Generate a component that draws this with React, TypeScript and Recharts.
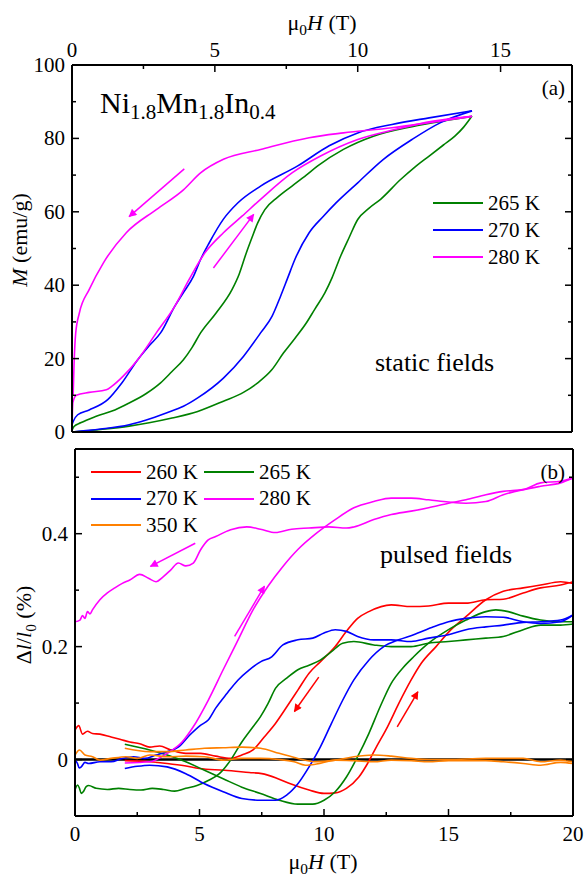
import React from 'react';
import { LineChart, Line, XAxis, YAxis } from 'recharts';

// ---- panel (a): static field magnetisation, [mu0H (T), M (emu/g)] ----
const m265Up: [number, number][] = [
  [0, 0], [1, 0.7], [2, 1.6], [2.7, 2.5], [3.5, 3.8], [4.4, 5.6], [5.3, 8.4], [6, 10.8], [6.5, 13.4],
  [7, 17], [7.4, 21.5], [7.8, 25.5], [8.2, 29.7], [8.5, 33.5], [8.85, 37.9], [9.1, 42], [9.4, 47.9],
  [9.7, 53], [10, 57.9], [10.4, 61], [10.8, 63.4], [11.5, 68.8], [12, 72.2], [12.5, 75.2], [13, 78.2],
  [13.4, 80.6], [13.7, 83], [14, 86.1],
];
const m265Down: [number, number][] = [
  [0, 0.5], [0.07, 1.5], [0.3, 2.5], [0.85, 4.3], [1.5, 6], [2, 7.9], [2.6, 10.5], [3.1, 13.4], [3.5, 16.5],
  [3.9, 19.7], [4.2, 23], [4.5, 27], [5.05, 32.5], [5.6, 38.8], [5.85, 43], [6.1, 48.8], [6.3, 53],
  [6.5, 57], [6.75, 60.6], [7.2, 64], [7.7, 67], [8.2, 70], [8.6, 72.5], [9.5, 77], [10.55, 80.6],
  [11.9, 83.2], [13.2, 85], [14, 86],
];
const m270Up: [number, number][] = [
  [0, 0], [1, 0.8], [2, 2], [2.6, 3.3], [3.3, 5.2], [3.9, 7], [4.4, 9.3], [5.3, 14.7], [6, 20.6], [6.6, 27],
  [7, 31.5], [7.3, 37], [7.55, 42], [7.8, 47], [8.3, 54.3], [8.8, 58.8], [9.25, 62.5], [10, 67.9],
  [10.9, 74.3], [11.9, 79.7], [12.9, 84.3], [14, 87.5],
];
const m270Down: [number, number][] = [
  [0, 2], [0.05, 3], [0.2, 4.7], [0.6, 6], [1.25, 8.8], [1.75, 13.4], [2.3, 19.7], [2.7, 23.5], [3.1, 27],
  [3.6, 34.3], [3.9, 38], [4.25, 42.4], [4.5, 47], [4.8, 51.5], [5.3, 58], [5.8, 62.4], [6.6, 67],
  [7.9, 72.5], [9, 78], [10, 81.5], [11.2, 83.8], [12.5, 85.6], [14, 87.5],
];
const m280Up: [number, number][] = [
  [0, 0.5], [0.03, 8], [0.15, 10], [0.6, 10.8], [1.2, 11.5], [1.4, 12.5], [1.8, 15.3], [2.3, 19.7],
  [2.95, 27], [3.6, 34.3], [4.1, 41.6], [4.65, 48.8], [5.3, 54.3], [5.95, 58.8], [6.6, 63.4], [7.7, 70.6],
  [8.7, 75.2], [10, 79.7], [11.3, 82.4], [12.65, 84.7], [14, 86],
];
const m280Down: [number, number][] = [
  [0.04, 10], [0.07, 18], [0.13, 27], [0.26, 32.5], [0.6, 38.8], [1.1, 46.1], [1.9, 54.3], [2.95, 60.6],
  [3.9, 66], [4.5, 70.6], [5.3, 74.3], [6.6, 77], [8.3, 80.2], [9.5, 81.5], [11.2, 82.9], [12.5, 84.3],
  [14, 86],
];
const arrowsA: [number, number][][] = [
  [[3.93, 71.7], [2.0, 58.7]],
  [[4.95, 44.7], [6.36, 59.3]],
];

// ---- panel (b): pulsed field magnetostriction, [mu0H (T), dl/l0 (%)] ----
const s260Up: [number, number][] = [
  [2, -0.002], [3, -0.004], [3.7, -0.007], [4.4, -0.011], [5, -0.016], [6, -0.019], [7, -0.023], [7.5, -0.025],
  [8.1, -0.033], [8.65, -0.043], [9.4, -0.054], [10, -0.06], [10.45, -0.059], [10.9, -0.051], [11.4, -0.031],
  [11.75, -0.007], [12.1, 0.022], [12.55, 0.058], [13, 0.099], [13.5, 0.141], [13.9, 0.17], [14.5, 0.2],
  [15.1, 0.23], [15.7, 0.253], [16.5, 0.283], [17.2, 0.298], [18, 0.304], [18.7, 0.309], [19.5, 0.315], [20, 0.312],
];
const s260Down: [number, number][] = [
  [0, 0.052], [0.15, 0.06], [0.3, 0.045], [0.5, 0.05], [0.7, 0.046], [1, 0.045], [1.45, 0.04], [1.8, 0.036],
  [2.2, 0.031], [2.6, 0.028], [3, 0.022], [3.4, 0.024], [3.85, 0.017], [4.45, 0.011], [5.05, 0.011],
  [5.65, 0.006], [6.25, 0.002], [6.7, 0.008], [7.15, 0.017], [7.6, 0.04], [8.05, 0.064], [8.5, 0.093],
  [8.95, 0.123], [9.4, 0.153], [9.85, 0.173], [10.45, 0.2], [10.9, 0.227], [11.35, 0.25], [11.8, 0.262],
  [12.7, 0.274], [13.5, 0.271], [14.2, 0.272], [15, 0.277], [15.7, 0.277], [16.5, 0.283], [17.2, 0.284],
  [18, 0.295], [18.7, 0.304], [19.5, 0.309], [20, 0.315],
];
const s265Up: [number, number][] = [
  [2, 0.027], [3, 0.017], [3.7, 0.008], [4.45, -0.004], [5.2, -0.019], [5.95, -0.034], [6.7, -0.049],
  [7.45, -0.06], [8.2, -0.072], [8.95, -0.079], [9.55, -0.079], [10, -0.072], [10.45, -0.057], [10.9, -0.031],
  [11.35, 0.005], [11.8, 0.046], [12.25, 0.093], [12.7, 0.135], [13.2, 0.164], [13.6, 0.182], [14.2, 0.206],
  [15, 0.23], [15.7, 0.247], [16.5, 0.262], [16.9, 0.265], [17.4, 0.262], [18, 0.254], [18.7, 0.247],
  [19.5, 0.244], [20, 0.244],
];
const s265Down: [number, number][] = [
  [0, -0.054], [0.1, -0.045], [0.18, -0.051], [0.25, -0.06], [0.33, -0.057], [0.45, -0.048], [0.55, -0.046],
  [0.85, -0.051], [1.3, -0.053], [1.75, -0.051], [2.2, -0.053], [2.65, -0.054], [3.1, -0.051], [3.55, -0.053],
  [4, -0.056], [4.45, -0.051], [4.9, -0.046], [5.35, -0.037], [5.8, -0.025], [6.25, -0.001], [6.7, 0.031],
  [7.15, 0.058], [7.45, 0.076], [7.75, 0.099], [8.05, 0.126], [8.5, 0.144], [8.95, 0.159], [9.4, 0.167],
  [9.85, 0.176], [10.3, 0.191], [10.75, 0.206], [11.2, 0.209], [12, 0.203], [12.7, 0.2], [13.5, 0.2],
  [14.2, 0.206], [15, 0.209], [15.7, 0.212], [16.5, 0.215], [17.2, 0.218], [18, 0.23], [18.7, 0.238],
  [19.5, 0.238], [20, 0.24],
];
const s270Up: [number, number][] = [
  [2, -0.016], [2.5, -0.012], [3, -0.01], [3.7, -0.013], [4.45, -0.025], [5.2, -0.043], [5.95, -0.057],
  [6.7, -0.069], [7.45, -0.072], [8.05, -0.072], [8.5, -0.063], [8.95, -0.043], [9.4, -0.013], [9.85, 0.022],
  [10.3, 0.064], [10.75, 0.105], [11.2, 0.141], [11.8, 0.176], [12.4, 0.2], [13, 0.212], [13.6, 0.221],
  [14.4, 0.235], [15, 0.244], [15.7, 0.25], [16.5, 0.253], [17.2, 0.252], [18, 0.244], [18.7, 0.241],
  [19.5, 0.244], [20, 0.256],
];
const s270Down: [number, number][] = [
  [0, -0.001], [0.1, -0.007], [0.17, -0.015], [0.25, -0.013], [0.4, -0.005], [0.55, -0.007], [1, -0.004],
  [1.45, -0.004], [1.9, 0.002], [2.35, 0.005], [2.8, 0.002], [3.25, 0.008], [3.7, 0.014], [4.15, 0.022],
  [4.6, 0.043], [5.05, 0.061], [5.35, 0.07], [5.65, 0.091], [6.1, 0.117], [6.55, 0.141], [7, 0.159],
  [7.45, 0.173], [7.9, 0.182], [8.35, 0.203], [8.95, 0.212], [9.55, 0.215], [10, 0.224], [10.45, 0.23],
  [10.9, 0.227], [11.35, 0.218], [12, 0.212], [12.7, 0.212], [13.5, 0.209], [14.2, 0.215], [15, 0.221],
  [15.7, 0.23], [16.5, 0.235], [17.2, 0.238], [18, 0.243], [18.7, 0.244], [19.5, 0.247], [20, 0.256],
];
const s280Up: [number, number][] = [
  [2, -0.006], [3, -0.004], [3.7, 0.011], [4.3, 0.031], [4.75, 0.058], [5.35, 0.105], [5.95, 0.159],
  [6.55, 0.212], [7.15, 0.265], [7.75, 0.307], [8.35, 0.342], [8.95, 0.372], [9.7, 0.401], [10.45, 0.425],
  [11.2, 0.446], [12, 0.457], [12.7, 0.463], [13.5, 0.463], [14.2, 0.46], [15, 0.456], [15.7, 0.454],
  [16.5, 0.457], [17.2, 0.469], [18, 0.478], [18.7, 0.484], [19.5, 0.49], [20, 0.499],
];
const s280Down: [number, number][] = [
  [0, 0.244], [0.2, 0.247], [0.3, 0.255], [0.4, 0.25], [0.5, 0.262], [0.6, 0.258], [0.7, 0.265], [1, 0.283],
  [1.3, 0.295], [1.6, 0.304], [1.9, 0.312], [2.2, 0.318], [2.6, 0.328], [2.95, 0.321], [3.25, 0.315],
  [3.55, 0.324], [3.85, 0.336], [4.15, 0.348], [4.45, 0.343], [4.75, 0.348], [5.05, 0.372], [5.35, 0.389],
  [5.65, 0.395], [6.25, 0.407], [6.9, 0.412], [7.45, 0.408], [8.05, 0.402], [8.7, 0.408], [9.4, 0.41],
  [10.2, 0.412], [10.9, 0.41], [11.2, 0.412], [12, 0.425], [12.7, 0.434], [13.5, 0.44], [14.2, 0.446],
  [15, 0.454], [15.7, 0.46], [16.5, 0.469], [17.2, 0.475], [18, 0.478], [18.7, 0.49], [19.5, 0.493], [20, 0.499],
];
const s350Up: [number, number][] = [
  [2, 0.02], [3, 0.014], [3.7, 0.014], [4.45, 0.017], [5.2, 0.02], [5.95, 0.021], [6.7, 0.022], [7.45, 0.02],
  [8.2, 0.011], [8.95, 0.002], [9.7, -0.004], [10.45, -0.001], [11.2, 0.005], [12, 0.008], [12.7, 0.006],
  [13.5, 0.002], [14.2, 0], [15, 0], [16.5, 0.002], [18, 0.002], [18.7, -0.004], [19.5, -0.001], [20, -0.004],
];
const s350Down: [number, number][] = [
  [0, 0.008], [0.18, 0.017], [0.4, 0.008], [0.7, 0.005], [1, -0.001], [1.45, 0.002], [2.05, 0.005],
  [2.5, 0.002], [3, 0.008], [3.7, 0.005], [4.45, 0.006], [5.2, 0.005], [5.95, -0.001], [6.7, 0.002],
  [7.45, 0.002], [8.2, 0], [8.8, -0.004], [9.25, -0.01], [9.7, -0.008], [10.45, -0.001], [11.2, -0.002],
  [12, -0.004], [12.7, -0.001], [13.5, -0.002], [14.2, -0.004], [15, -0.002], [16.5, -0.002], [17.2, -0.004],
  [18, -0.007], [18.7, -0.01], [19.5, -0.005], [20, -0.007],
];
const baselineB: [number, number][] = [[0, 0], [20, 0]];
const arrowsB280: [number, number][][] = [
  [[4.83, 0.383], [3.03, 0.342]],
  [[6.41, 0.218], [7.61, 0.307]],
];
const arrowsB260: [number, number][][] = [
  [[9.79, 0.146], [8.81, 0.085]],
  [[12.94, 0.058], [13.77, 0.12]],
];

// ticks
const ticksXA = [0, 2.5, 5, 7.5, 10, 12.5, 15];
const majorXA = [0, 5, 10, 15];
const ticksYA = [0, 10, 20, 30, 40, 50, 60, 70, 80, 90, 100];
const majorYA = [0, 20, 40, 60, 80, 100];
const ticksXB = [0, 2.5, 5, 7.5, 10, 12.5, 15, 17.5, 20];
const majorXB = [0, 5, 10, 15, 20];
const ticksYB = [0, 0.1, 0.2, 0.3, 0.4, 0.5];
const majorYB = [0, 0.2, 0.4];

const labelsA = ['265 K', '270 K', '280 K'];
const labelsB = ['260 K', '265 K', '270 K', '280 K', '350 K'];

const C = {
  red: '#ff0000',
  green: '#008000',
  blue: '#0000ff',
  magenta: '#ff00ff',
  orange: '#ff8000',
};

const FONT = '"Liberation Serif", "DejaVu Serif", serif';

const pts = (arr: [number, number][]) => arr.map(([h, v]) => ({ h, v }));

type Side = 'top' | 'bottom' | 'left' | 'right';

// inward ticks: tickSize 0 puts (x, y) right on the axis line
const makeTick = (side: Side, majors: number[], fmt?: (v: number) => string) => (props: any) => {
  const { x, y, payload } = props;
  const v = payload.value;
  const isMajor = majors.some(m => Math.abs(m - v) < 1e-6);
  const len = isMajor ? 7 : 4;
  const ls = { stroke: '#000', strokeWidth: 1.5 };
  let line;
  let label = null;
  const tp = { fontFamily: FONT, fontSize: 21, fill: '#000' };
  if (side === 'bottom') {
    line = <line x1={x} y1={y} x2={x} y2={y - len} {...ls} />;
    if (fmt && isMajor) label = <text x={x} y={y + 18} textAnchor="middle" dominantBaseline="central" {...tp}>{fmt(v)}</text>;
  } else if (side === 'top') {
    line = <line x1={x} y1={y} x2={x} y2={y + len} {...ls} />;
    if (fmt && isMajor) label = <text x={x} y={y - 15} textAnchor="middle" dominantBaseline="central" {...tp}>{fmt(v)}</text>;
  } else if (side === 'left') {
    line = <line x1={x} y1={y} x2={x + len} y2={y} {...ls} />;
    if (fmt && isMajor) label = <text x={x - 7} y={y} textAnchor="end" dominantBaseline="central" {...tp}>{fmt(v)}</text>;
  } else {
    line = <line x1={x} y1={y} x2={x - len} y2={y} {...ls} />;
  }
  return <g>{line}{label}</g>;
};

const axisLine = { stroke: '#000', strokeWidth: 2 };

function Txt({ x, y, size = 21, anchor = 'start', rotate = false, children }: any) {
  const tx = anchor === 'middle' ? '-50%' : anchor === 'end' ? '-100%' : '0';
  return (
    <div
      style={{
        position: 'absolute',
        left: x,
        top: y,
        fontFamily: FONT,
        fontSize: size,
        lineHeight: 1,
        whiteSpace: 'nowrap',
        color: '#000',
        transform: rotate ? 'translate(-50%, -50%) rotate(-90deg)' : `translate(${tx}, -50%)`,
      }}
    >
      {children}
    </div>
  );
}

const Sub = ({ children }: any) => (
  <span style={{ fontSize: '0.7em', position: 'relative', top: '0.3em' }}>{children}</span>
);

function LegendRow({ x, y, color, label }: any) {
  return (
    <div style={{ position: 'absolute', left: x, top: y - 12, height: 24, display: 'flex', alignItems: 'center' }}>
      <div style={{ width: 50, height: 2, background: color, marginRight: 5 }} />
      <span style={{ fontFamily: FONT, fontSize: 21, lineHeight: 1 }}>{label}</span>
    </div>
  );
}

const lineProps = { type: 'monotoneX' as const, dot: false, isAnimationActive: false, strokeWidth: 1.6, dataKey: 'v' };

export default function App() {
  const colorsA = [C.green, C.blue, C.magenta];
  const colorsB = [C.red, C.green, C.blue, C.magenta, C.orange];
  return (
    <div style={{ position: 'absolute', left: 0, top: 0, width: 587, height: 878, background: '#fff' }}>
      <svg width={0} height={0} style={{ position: 'absolute' }}>
        <defs>
          {[['m', C.magenta], ['r', C.red]].map(([id, col]) => (
            <marker key={id} id={`arrow-${id}`} viewBox="0 0 10 10" refX="9" refY="5" markerWidth="11" markerHeight="8"
              markerUnits="userSpaceOnUse" orient="auto">
              <path d="M0,0 L10,5 L0,10 z" fill={col} />
            </marker>
          ))}
        </defs>
      </svg>

      {/* panel (b) */}
      <div style={{ position: 'absolute', left: 0, top: 440 }}>
        <LineChart width={587} height={438} margin={{ top: 8, right: 13, bottom: 61, left: 74 }}>
          <XAxis xAxisId="main" type="number" dataKey="h" orientation="bottom" domain={[0, 20]} ticks={ticksXB}
            interval={0} height={1} tickSize={0} tickMargin={0} axisLine={axisLine} tickLine={false}
            tick={makeTick('bottom', majorXB, v => String(v))} allowDataOverflow />
          <XAxis xAxisId="mirror" type="number" orientation="top" domain={[0, 20]} ticks={ticksXB}
            interval={0} height={1} tickSize={0} tickMargin={0} axisLine={axisLine} tickLine={false}
            tick={makeTick('top', majorXB)} allowDataOverflow />
          <YAxis yAxisId="main" type="number" orientation="left" domain={[-0.1, 0.55]} ticks={ticksYB} interval={0}
            width={1} tickSize={0} tickMargin={0} axisLine={axisLine} tickLine={false}
            tick={makeTick('left', majorYB, v => (v === 0 ? '0' : v.toFixed(1)))} allowDataOverflow />
          <YAxis yAxisId="mirror" type="number" orientation="right" domain={[-0.1, 0.55]} ticks={ticksYB} interval={0}
            width={1} tickSize={0} tickMargin={0} axisLine={axisLine} tickLine={false}
            tick={makeTick('right', majorYB)} allowDataOverflow />
          <Line xAxisId="main" yAxisId="main" data={pts(baselineB)} dataKey="v" type="linear" dot={false}
            isAnimationActive={false} stroke="#000" strokeWidth={2.5} />
          {[[s260Up, s260Down], [s265Up, s265Down], [s270Up, s270Down], [s280Up, s280Down], [s350Up, s350Down]].map((pair, i) =>
            pair.map((d, j) => (
              <Line key={`b${i}${j}`} xAxisId="main" yAxisId="main" data={pts(d)} stroke={colorsB[i]} {...lineProps} />
            ))
          )}
          {arrowsB280.map((d, i) => (
            <Line key={`bm${i}`} xAxisId="main" yAxisId="main" data={pts(d)} dataKey="v" type="linear" dot={false}
              isAnimationActive={false} stroke={C.magenta} strokeWidth={1.5} markerEnd="url(#arrow-m)" />
          ))}
          {arrowsB260.map((d, i) => (
            <Line key={`br${i}`} xAxisId="main" yAxisId="main" data={pts(d)} dataKey="v" type="linear" dot={false}
              isAnimationActive={false} stroke={C.red} strokeWidth={1.5} markerEnd="url(#arrow-r)" />
          ))}
        </LineChart>
      </div>

      {/* panel (a), drawn taller so the bottom "0" label is not clipped */}
      <div style={{ position: 'absolute', left: 0, top: 0 }}>
        <LineChart width={587} height={446} margin={{ top: 64, right: 14, bottom: 13, left: 71 }}>
          <XAxis xAxisId="main" type="number" dataKey="h" orientation="top" domain={[0, 17.5]} ticks={ticksXA}
            interval={0} height={1} tickSize={0} tickMargin={0} axisLine={axisLine} tickLine={false}
            tick={makeTick('top', majorXA, v => String(v))} allowDataOverflow />
          <XAxis xAxisId="mirror" type="number" orientation="bottom" domain={[0, 17.5]} ticks={ticksXA}
            interval={0} height={1} tickSize={0} tickMargin={0} axisLine={axisLine} tickLine={false}
            tick={makeTick('bottom', majorXA)} allowDataOverflow />
          <YAxis yAxisId="main" type="number" orientation="left" domain={[0, 100]} ticks={ticksYA} interval={0}
            width={1} tickSize={0} tickMargin={0} axisLine={axisLine} tickLine={false}
            tick={makeTick('left', majorYA, v => String(v))} allowDataOverflow />
          <YAxis yAxisId="mirror" type="number" orientation="right" domain={[0, 100]} ticks={ticksYA} interval={0}
            width={1} tickSize={0} tickMargin={0} axisLine={axisLine} tickLine={false}
            tick={makeTick('right', majorYA)} allowDataOverflow />
          {[[m265Up, m265Down], [m270Up, m270Down], [m280Up, m280Down]].map((pair, i) =>
            pair.map((d, j) => (
              <Line key={`a${i}${j}`} xAxisId="main" yAxisId="main" data={pts(d)} stroke={colorsA[i]} {...lineProps} />
            ))
          )}
          {arrowsA.map((d, i) => (
            <Line key={`aa${i}`} xAxisId="main" yAxisId="main" data={pts(d)} dataKey="v" type="linear" dot={false}
              isAnimationActive={false} stroke={C.magenta} strokeWidth={1.5} markerEnd="url(#arrow-m)" />
          ))}
        </LineChart>
      </div>

      {/* axis titles */}
      <Txt x={322} y={23} size={22} anchor="middle">μ<Sub>0</Sub><i>H</i> (T)</Txt>
      <Txt x={323} y={862} size={22} anchor="middle">μ<Sub>0</Sub><i>H</i> (T)</Txt>
      <Txt x={20} y={240} size={22} rotate><i>M</i> (emu/g)</Txt>
      <Txt x={24} y={625} size={22} rotate>Δ<i>l</i>/<i>l</i><Sub>0</Sub> (%)</Txt>

      {/* annotations */}
      <Txt x={100} y={103} size={30}>Ni<Sub>1.8</Sub>Mn<Sub>1.8</Sub>In<Sub>0.4</Sub></Txt>
      <Txt x={565} y={88} anchor="end">(a)</Txt>
      <Txt x={375} y={363} size={26}>static fields</Txt>
      <Txt x={565} y={472} anchor="end">(b)</Txt>
      <Txt x={380} y={555} size={26}>pulsed fields</Txt>

      {/* legends */}
      {labelsA.map((l, i) => (
        <LegendRow key={l} x={433} y={203 + i * 27} color={colorsA[i]} label={l} />
      ))}
      {labelsB.map((l, i) => (
        <LegendRow key={l} x={i % 2 === 0 ? 91 : 204} y={472 + Math.floor(i / 2) * 26.5} color={colorsB[i]} label={l} />
      ))}
    </div>
  );
}
